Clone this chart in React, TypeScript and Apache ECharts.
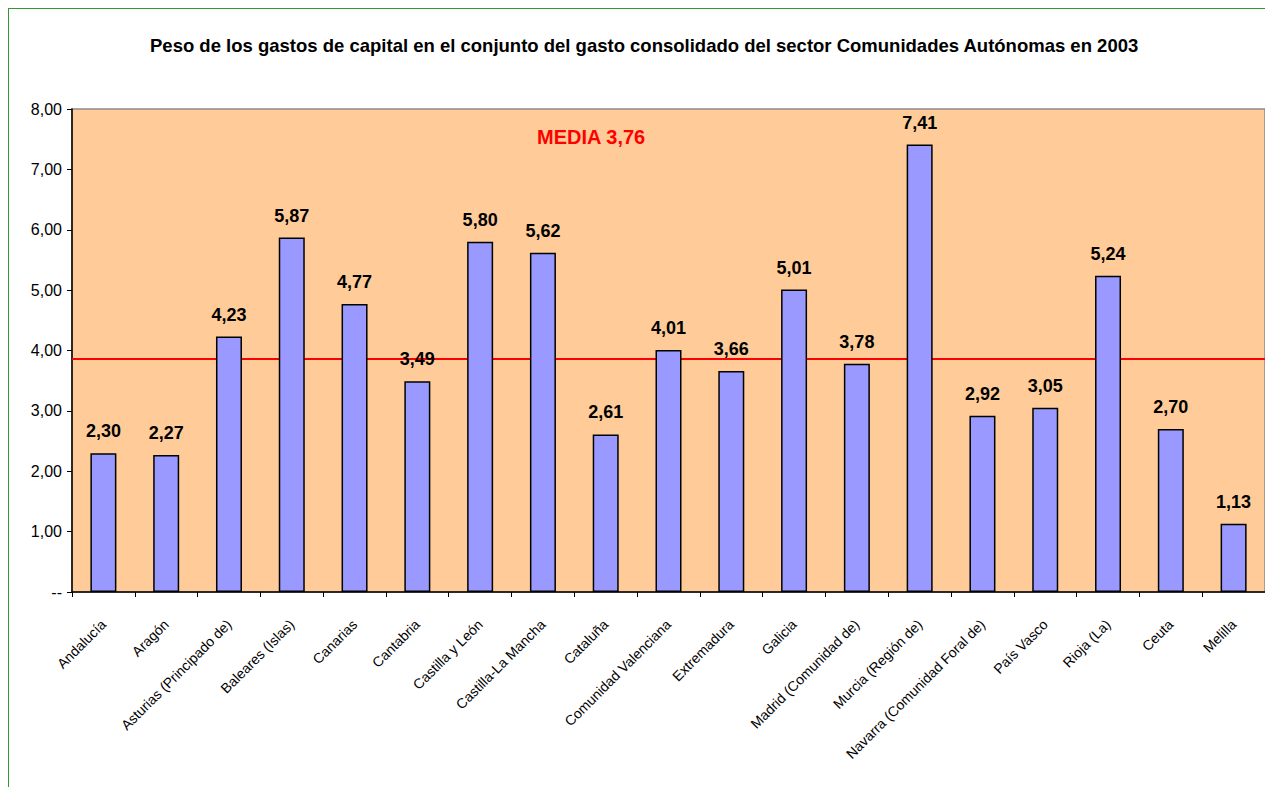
import React, { useEffect, useRef } from "react";
import * as echarts from "echarts";

const titleText =
  "Peso de los gastos de capital en el conjunto del gasto consolidado del sector Comunidades Autónomas en 2003";

const categories = [
  "Andalucía",
  "Aragón",
  "Asturias (Principado de)",
  "Baleares (Islas)",
  "Canarias",
  "Cantabria",
  "Castilla y León",
  "Castilla-La Mancha",
  "Cataluña",
  "Comunidad Valenciana",
  "Extremadura",
  "Galicia",
  "Madrid (Comunidad de)",
  "Murcia (Región de)",
  "Navarra (Comunidad Foral de)",
  "País Vasco",
  "Rioja (La)",
  "Ceuta",
  "Melilla",
];

const values = [
  2.3, 2.27, 4.23, 5.87, 4.77, 3.49, 5.8, 5.62, 2.61, 4.01, 3.66, 5.01, 3.78,
  7.41, 2.92, 3.05, 5.24, 2.7, 1.13,
];

const mediaLineValue = 3.86;
const mediaLabel = "MEDIA 3,76";

const yTicks = [0, 1, 2, 3, 4, 5, 6, 7, 8];

const FONT = "'Liberation Sans', Arial, sans-serif";

const fmt = (v: number) => v.toFixed(2).replace(".", ",");

export default function App() {
  const ref = useRef<HTMLDivElement>(null);

  useEffect(() => {
    if (!ref.current) return;
    const chart = echarts.init(ref.current, undefined, { renderer: "svg" });
    chart.setOption({
      animation: false,
      backgroundColor: "#ffffff",
      textStyle: { fontFamily: FONT },
      title: {
        text: titleText,
        left: 136,
        top: 22,
        textStyle: {
          fontFamily: FONT,
          fontSize: 18.5,
          fontWeight: "bold",
          color: "#000",
        },
      },
      graphic: [
        {
          type: "text",
          left: 528,
          top: 118,
          style: {
            text: mediaLabel,
            fill: "#ff0000",
            font: `bold 20px ${FONT}`,
          },
          z: 10,
        },
      ],
      grid: {
        left: 63,
        right: -7,
        top: 100,
        bottom: 195,
        show: true,
        backgroundColor: "#FFCC99",
        borderColor: "#8c8c8c",
        borderWidth: 1.5,
      },
      xAxis: {
        type: "category",
        data: categories,
        boundaryGap: true,
        axisLine: { show: true, lineStyle: { color: "#000", width: 1.5 } },
        axisTick: { show: true, length: 5, lineStyle: { color: "#000" } },
        axisLabel: {
          rotate: 45,
          margin: 30,
          fontSize: 14,
          color: "#000",
          fontFamily: FONT,
          interval: 0,
        },
        splitLine: { show: false },
      },
      yAxis: {
        type: "value",
        min: yTicks[0],
        max: yTicks[yTicks.length - 1],
        interval: 1,
        axisLine: { show: true, lineStyle: { color: "#000", width: 1.5 } },
        axisTick: { show: true, length: 5, lineStyle: { color: "#000" } },
        axisLabel: {
          fontSize: 16,
          color: "#000",
          margin: 10,
          fontFamily: FONT,
          formatter: (v: number) => (v === 0 ? "--" : fmt(v)),
        },
        splitLine: { show: false },
      },
      series: [
        {
          type: "bar",
          data: values,
          barWidth: 26,
          itemStyle: {
            color: "#9999FF",
            borderColor: "#000",
            borderWidth: 1.5,
          },
          label: {
            show: true,
            position: "top",
            distance: 13,
            fontSize: 18,
            fontWeight: "bold",
            color: "#000",
            fontFamily: FONT,
            formatter: (p: any) => fmt(p.value),
          },
          markLine: {
            silent: true,
            symbol: "none",
            label: { show: false },
            lineStyle: { color: "#ff0000", width: 2, type: "solid" },
            data: [{ yAxis: mediaLineValue }],
            z: 1,
          },
          z: 3,
        },
      ],
    });
    return () => chart.dispose();
  }, []);

  return (
    <div
      style={{
        position: "fixed",
        left: 8,
        top: 8,
        width: 1257,
        height: 779,
        boxSizing: "border-box",
        borderTop: "1px solid #339933",
        borderLeft: "1px solid #339933",
        overflow: "hidden",
      }}
    >
      <div ref={ref} style={{ width: 1256, height: 778 }} />
    </div>
  );
}
